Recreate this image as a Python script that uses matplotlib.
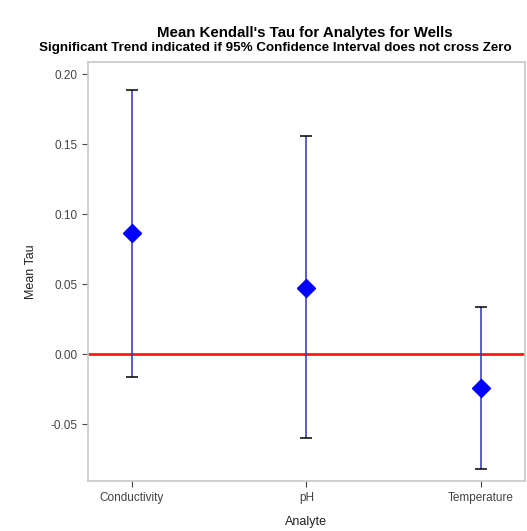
import matplotlib
matplotlib.use('Agg')
from matplotlib import pyplot as plt

analytes = ['Conductivity', 'pH', 'Temperature']
mean_tau = [0.0864, 0.047, -0.0243]
upper_ci = [0.189, 0.156, 0.0336]
lower_ci = [-0.0164, -0.060, -0.082]

plt.rcParams['font.family'] = ['Liberation Sans', 'DejaVu Sans']

fig = plt.figure(figsize=(5.27, 5.31), dpi=100)
ax = fig.add_axes([0.167, 0.094, 0.829, 0.789])

xs = list(range(len(analytes)))
err_lo = [m - l for m, l in zip(mean_tau, lower_ci)]
err_hi = [u - m for m, u in zip(mean_tau, upper_ci)]

# zero reference line
ax.axhline(0, color='#ff1a1a', lw=2, zorder=1)

# confidence interval bars: blue stem, black caps
ax.errorbar(xs, mean_tau, yerr=[err_lo, err_hi], fmt='none',
            ecolor='#3030c8', elinewidth=1.1, capsize=0, zorder=2)
ax.plot(xs, upper_ci, ls='none', marker='_', ms=8, mew=1.1, color='black', zorder=3)
ax.plot(xs, lower_ci, ls='none', marker='_', ms=8, mew=1.1, color='black', zorder=3)
ax.plot(xs, mean_tau, ls='none', marker='D', ms=9.5, color='#0000ff', zorder=4)

ax.set_xlim(-0.25, 2.25)
ax.set_ylim(-0.0907, 0.2086)
ax.set_xticks(xs)
ax.set_xticklabels(analytes)
ax.set_yticks([-0.05, 0.0, 0.05, 0.10, 0.15, 0.20])
ax.set_yticklabels(['-0.05', '0.00', '0.05', '0.10', '0.15', '0.20'])
ax.tick_params(labelsize=8.5, colors='#444444', length=4, width=0.8)
for sp in ax.spines.values():
    sp.set_color('#c8c8c8')
    sp.set_linewidth(1.2)

ax.set_xlabel('Analyte', fontsize=9, color='#222222', labelpad=9)
ax.set_ylabel('Mean Tau', fontsize=9, color='#222222', labelpad=10)

fig.text(0.579, 0.938, "Mean Kendall's Tau for Analytes for Wells",
         ha='center', va='center', fontsize=10.8, fontweight='bold')
fig.text(0.522, 0.910, 'Significant Trend indicated if 95% Confidence Interval does not cross Zero',
         ha='center', va='center', fontsize=9.6, fontweight='bold')

fig.savefig('out.png', dpi=100)
